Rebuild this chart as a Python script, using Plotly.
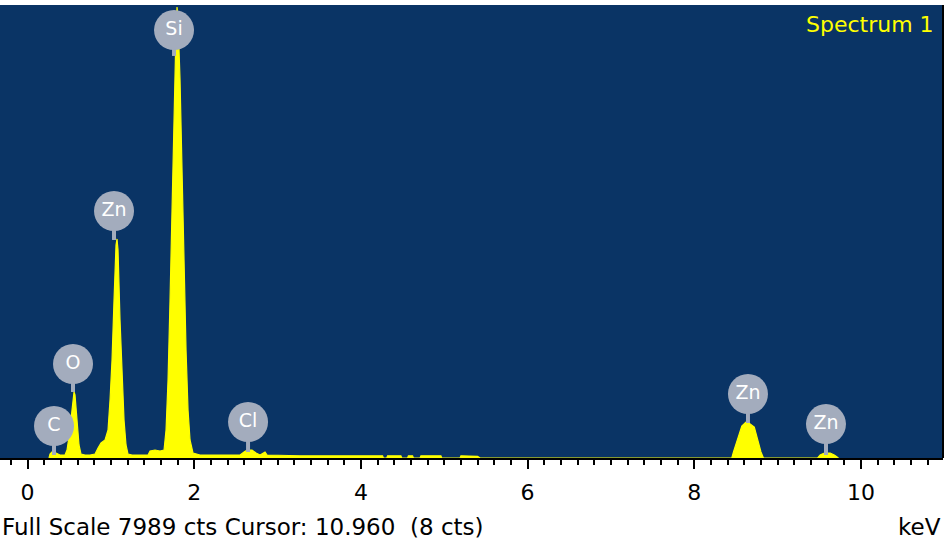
import plotly.graph_objects as go

# Spectrum (energy in keV, counts)
energy_kev = [0.258, 0.27, 0.294, 0.342, 0.39, 0.45, 0.474, 0.51, 0.534, 0.558, 0.57, 0.594, 0.618, 0.642,
              0.69, 0.75, 0.81, 0.846, 0.882, 0.93, 0.966, 0.99, 1.014, 1.038, 1.062, 1.074, 1.086, 1.11,
              1.134, 1.158, 1.182, 1.206, 1.254, 1.35, 1.446, 1.47, 1.53, 1.59, 1.638, 1.662, 1.686, 1.71,
              1.734, 1.758, 1.782, 1.794, 1.806, 1.83, 1.854, 1.878, 1.902, 1.926, 1.95, 1.986, 2.07, 2.31,
              2.55, 2.598, 2.634, 2.694, 2.742, 2.79, 2.85, 2.874, 3.27, 3.87, 4.26, 4.27, 4.31, 4.32,
              4.48, 4.49, 4.56, 4.57, 4.62, 4.63, 4.71, 4.72, 4.96, 4.97, 5.19, 5.20, 5.40, 5.43,
              8.45, 8.47, 8.52, 8.57, 8.62, 8.64, 8.72, 8.76, 8.80, 8.83, 8.86,
              9.48, 9.51, 9.56, 9.63, 9.68, 9.73]
counts = [0, 70, 106, 88, 53, 53, 141, 494, 848, 1166, 1113, 671, 230, 70,
          53, 53, 70, 177, 265, 318, 494, 1024, 1731, 2790, 3762, 3868, 3673, 2437,
          1377, 671, 230, 70, 53, 53, 53, 124, 141, 124, 141, 494, 1377, 2790,
          4556, 6322, 7558, 7965, 7735, 6675, 5263, 3497, 1907, 848, 318, 88, 53, 53,
          53, 106, 141, 141, 88, 53, 106, 53, 40, 40, 40, 0, 0, 40,
          40, 0, 0, 40, 40, 0, 0, 40, 40, 0, 0, 40, 30, 0,
          0, 106, 318, 565, 636, 636, 547, 318, 106, 0, 0,
          0, 53, 88, 88, 53, 0]

# Peak labels
label_names = ["C", "O", "Zn", "Si", "Cl", "Zn", "Zn"]
label_kev = [0.318, 0.546, 1.038, 1.758, 2.646, 8.644, 9.58]
label_counts = [565, 1660, 4362, 7558, 636, 1130, 600]
stem_end_counts = [53, 1166, 3850, 7100, 106, 618, 53]

tick_values = [0, 2, 4, 6, 8, 10]
tick_labels = ["0", "2", "4", "6", "8", "10"]

full_scale = 7989
cursor_kev = 10.960
cursor_cts = 8

BG = "#0A3465"
YEL = "#FFFF00"
GREY = "#A3ACBD"
FONT = "DejaVu Sans"

fig = go.Figure()
fig.add_trace(go.Scatter(x=energy_kev, y=counts, mode="lines", fill="tozeroy",
                         fillcolor=YEL, line=dict(color=YEL, width=1.2),
                         hoverinfo="skip", showlegend=False))

sx, sy = [], []
for e, c, s in zip(label_kev, label_counts, stem_end_counts):
    sx += [e, e, None]
    sy += [c, s, None]
fig.add_trace(go.Scatter(x=sx, y=sy, mode="lines", line=dict(color=GREY, width=4),
                         hoverinfo="skip", showlegend=False))
fig.add_trace(go.Scatter(x=label_kev, y=label_counts, mode="markers+text",
                         text=label_names, textposition="middle center",
                         textfont=dict(family=FONT, size=19, color="white"),
                         marker=dict(size=40, color=GREY, line=dict(width=0)),
                         hoverinfo="skip", showlegend=False))

fig.update_layout(
    width=945, height=542,
    margin=dict(l=0, r=2, t=5, b=84),
    paper_bgcolor="white", plot_bgcolor=BG,
    font=dict(family=FONT, color="black"),
    xaxis=dict(range=[-0.33, 10.984], tickmode="array", tickvals=tick_values, ticktext=tick_labels,
               ticks="outside", ticklen=9, tickwidth=2, tickcolor="black",
               minor=dict(dtick=0.2, tick0=0, ticks="outside", ticklen=5, tickwidth=2, tickcolor="black"),
               showline=True, linecolor="black", linewidth=2, showgrid=False, zeroline=False,
               tickfont=dict(family=FONT, size=22, color="black"), ticklabelstandoff=5, fixedrange=True),
    yaxis=dict(range=[0, 8000], showticklabels=False, ticks="", showgrid=False, zeroline=False,
               showline=False, fixedrange=True),
    shapes=[dict(type="line", xref="paper", yref="paper", x0=1, x1=1, y0=0, y1=1,
                 line=dict(color="black", width=2))],
    annotations=[
        dict(text="Spectrum 1", xref="paper", yref="paper", x=0.993, y=0.956,
             xanchor="right", yanchor="middle", showarrow=False,
             font=dict(family=FONT, size=22, color=YEL)),
        dict(text=f"Full Scale {full_scale} cts Cursor: {cursor_kev:.3f}  ({cursor_cts} cts)",
             xref="paper", yref="paper", x=0.0, y=-0.152, xanchor="left", yanchor="middle",
             showarrow=False, font=dict(family=FONT, size=23, color="black")),
        dict(text="keV", xref="paper", yref="paper", x=1.0, y=-0.152, xanchor="right", yanchor="middle",
             showarrow=False, font=dict(family=FONT, size=23, color="black")),
    ],
)

fig.write_html("out.html", config={"displayModeBar": False},
               post_script="document.body.style.margin='0';document.body.style.padding='0';"
                           "document.body.style.overflow='hidden';")
